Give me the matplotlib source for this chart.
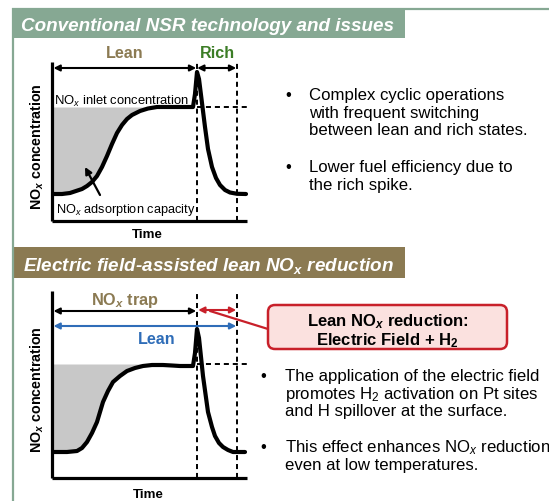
import matplotlib
matplotlib.use("Agg")
import matplotlib.pyplot as plt
import numpy as np
from matplotlib.patches import Rectangle, FancyBboxPatch, ConnectionPatch

plt.rcParams['font.family'] = ['Liberation Sans', 'DejaVu Sans']
plt.rcParams['mathtext.fontset'] = 'custom'
plt.rcParams['mathtext.rm'] = 'Liberation Sans'
plt.rcParams['mathtext.it'] = 'Liberation Sans:italic'
plt.rcParams['mathtext.bf'] = 'Liberation Sans:bold'
plt.rcParams['mathtext.bfit'] = 'Liberation Sans:bold:italic'

# ---------------- data (schematic) ----------------
# top panel: conventional NSR cycle (time, NOx outlet concentration)
t_top = [0.0, 1.0, 1.8, 2.4, 3.0, 3.5, 4.0, 4.5, 5.0, 5.5, 6.0, 6.5, 7.0, 7.5, 8.0, 8.8,
         9.6, 10.5, 12.0, 14.1, 14.3, 14.5, 14.7, 15.0, 15.3, 15.6, 16.0, 16.4, 16.8,
         17.3, 17.8, 18.5, 19.4]
c_top = [2.7, 2.7, 2.8, 3.0, 3.2, 3.5, 3.9, 4.5, 5.4, 6.5, 7.7, 8.8, 9.6, 10.2, 10.6, 11.0,
         11.25, 11.4, 11.4, 11.4, 12.7, 14.9, 14.2, 11.8, 9.4, 7.2, 5.4, 4.3, 3.6,
         3.1, 2.85, 2.72, 2.7]
inlet_top = 11.4
fill_end_top = 10.5

# bottom panel: electric-field assisted lean NOx reduction
t_bot = [0.0, 1.5, 2.5, 3.0, 3.5, 4.0, 4.5, 5.1, 5.6, 6.1, 6.8, 7.5, 8.3, 9.1, 10.0, 11.1,
         12.0, 12.8, 14.1, 14.3, 14.5, 14.7, 15.1, 15.6, 16.0, 16.3, 16.7, 17.1, 17.6,
         18.1, 19.3]
c_bot = [2.6, 2.6, 2.7, 3.0, 3.6, 4.5, 5.6, 7.6, 8.7, 9.6, 10.2, 10.7, 11.0, 11.2, 11.3, 11.3,
         11.25, 11.2, 11.2, 12.5, 14.9, 14.0, 10.2, 6.6, 5.1, 4.2, 3.5, 3.1, 2.8,
         2.6, 2.6]
inlet_bot = 11.4
fill_end_bot = 10.0

lean_end = 14.47     # end of lean period (switch)
rich_end = 18.47     # end of rich period

header_top = "Conventional NSR technology and issues"
header_bot = r"Electric field-assisted lean NO$_{\mathbfit{x}}$ reduction"

bullets_top = [["Complex cyclic operations", "with frequent switching",
                "between lean and rich states."],
               ["Lower fuel efficiency due to", "the rich spike."]]
bullets_bot = [["The application of the electric field",
                r"promotes H$_2$ activation on Pt sites",
                "and H spillover at the surface."],
               [r"This effect enhances NO$_x$ reduction", "even at low temperatures."]]
box_lines = [r"Lean NO$_{\mathbfit{x}}$ reduction:", r"Electric Field + H$_{\mathbf{2}}$"]

# ---------------- colours ----------------
SAGE = '#86A893'
OLIVE = '#8B7A52'
GREEN = '#3C7D26'
BLUE = '#2F6DB8'
RED = '#C8202A'
GREY = '#C8C8C8'

W, H = 549, 502
fig = plt.figure(figsize=(W / 100, H / 100), dpi=100)

# layout axes in pixel units
bg = fig.add_axes([0, 0, 1, 1])
bg.set_xlim(0, W)
bg.set_ylim(H, 0)
bg.axis('off')

# frame lines
bg.plot([12, W], [9.5, 9.5], color=SAGE, lw=1.6, solid_capstyle='butt')
bg.plot([13, 13], [9, H], color=SAGE, lw=1.6, solid_capstyle='butt')
bg.add_patch(Rectangle((12, 9), 393, 30, facecolor=SAGE, edgecolor='none'))
bg.add_patch(Rectangle((12, 248), 393, 31, facecolor=OLIVE, edgecolor='none'))
bg.text(21, 31, header_top, color='white', fontsize=13.6, fontweight='bold',
        fontstyle='italic', ha='left', va='baseline')
bg.text(23, 271, header_bot, color='white', fontsize=13.6, fontweight='bold',
        fontstyle='italic', ha='left', va='baseline')

# bullets
def draw_bullets(groups, x_bullet, x_text, baselines):
    k = 0
    for g in groups:
        for j, line in enumerate(g):
            if j == 0:
                bg.text(x_bullet, baselines[k], "\u2022", fontsize=12.1, ha='left',
                        va='baseline', color='black')
            bg.text(x_text, baselines[k], line, fontsize=12.1, ha='left',
                    va='baseline', color='black')
            k += 1

draw_bullets(bullets_top, 285, 309, [100, 117.7, 135.5, 172.3, 190])
draw_bullets(bullets_bot, 260, 285, [381, 399, 416.5, 452, 470])

# red box
bg.add_patch(FancyBboxPatch((268, 306), 239, 44, boxstyle="round,pad=0,rounding_size=7",
                            facecolor='#FBE1DF', edgecolor=RED, lw=1.8))
bg.text(387.5, 326.5, box_lines[0], fontsize=12, fontweight='bold', ha='center', va='baseline')
bg.text(387.5, 345.5, box_lines[1], fontsize=12, fontweight='bold', ha='center', va='baseline')


def make_chart(px_left, px_bottom, px_top, ylim_top, t, c, inlet, fill_end, spine_top):
    ax = fig.add_axes([px_left / W, 1 - px_bottom / H, 200 / W, (px_bottom - px_top) / H])
    ax.set_xlim(0, 20)
    ax.set_ylim(0, ylim_top)
    ax.patch.set_alpha(0)
    for s in ['top', 'right']:
        ax.spines[s].set_visible(False)
    for s in ['left', 'bottom']:
        ax.spines[s].set_linewidth(2.3)
        ax.spines[s].set_capstyle('butt')
    ax.spines['left'].set_bounds(0, spine_top)
    ax.spines['bottom'].set_bounds(0, 19.5)
    ax.set_xticks([])
    ax.set_yticks([])
    t = np.asarray(t)
    c = np.asarray(c)
    m = t <= fill_end
    ax.fill_between(t[m], c[m], inlet, color=GREY, lw=0, zorder=1)
    ax.plot(t, c, color='black', lw=3.0, solid_joinstyle='round', solid_capstyle='round',
            zorder=4)
    ax.plot([lean_end, 19.8], [inlet, inlet], color='black', lw=1.4,
            linestyle=(0, (2.6, 2.0)), zorder=3, clip_on=False)
    return ax

def arrow(ax, x0, x1, y, color):
    ax.annotate('', xy=(x1, y), xytext=(x0, y),
                arrowprops=dict(arrowstyle='<|-|>', color=color, lw=1.5,
                                mutation_scale=9, shrinkA=0, shrinkB=0), zorder=5)

# ---- top chart ----
ax1 = make_chart(52, 222, 45, 17.7, t_top, c_top, inlet_top, fill_end_top, 15.9)
for tx in (lean_end, rich_end):
    ax1.plot([tx, tx], [0, 16.1], color='black', lw=1.4, linestyle=(0, (2.6, 2.0)), zorder=3)
arrow(ax1, 0.15, lean_end - 0.05, 15.3, 'black')
arrow(ax1, lean_end + 0.05, rich_end - 0.05, 15.3, 'black')
ax1.text(7.3, 16.8, "Lean", color=OLIVE, fontsize=11.6, fontweight='bold', ha='center', va='center')
ax1.text(16.5, 16.8, "Rich", color=GREEN, fontsize=11.6, fontweight='bold', ha='center', va='center')
ax1.text(0.15, 12.05, r"NO$_x$ inlet concentration", fontsize=9.4, ha='left', va='center', zorder=6)
ax1.text(0.45, 1.2, r"NO$_x$ adsorption capacity", fontsize=9.2, ha='left', va='center', zorder=6)
ax1.annotate('', xy=(3.3, 5.4), xytext=(4.8, 2.6),
             arrowprops=dict(arrowstyle='-|>', color='black', lw=1.6, mutation_scale=10,
                             shrinkA=0, shrinkB=0), zorder=6)
ax1.text(9.5, -1.3, "Time", fontsize=9.6, fontweight='bold', ha='center', va='center')
ax1.text(-1.5, 7.5, r"NO$_{\mathbfit{x}}$ concentration", fontsize=10.3, fontweight='bold',
         rotation=90, ha='center', va='center')

# ---- bottom chart ----
ax2 = make_chart(52, 479, 285, 19.4, t_bot, c_bot, inlet_bot, fill_end_bot, 18.7)
for tx in (lean_end, rich_end):
    ax2.plot([tx, tx], [0, 18.7], color='black', lw=1.4, linestyle=(0, (2.6, 2.0)), zorder=3)
arrow(ax2, 0.15, lean_end - 0.05, 16.7, 'black')
arrow(ax2, lean_end + 0.15, rich_end - 0.05, 16.8, RED)
arrow(ax2, 0.15, rich_end - 0.05, 15.2, BLUE)
ax2.text(7.3, 17.8, r"NO$_{\mathbfit{x}}$ trap", color=OLIVE, fontsize=11.7, fontweight='bold',
         ha='center', va='center')
ax2.text(10.5, 13.9, "Lean", color=BLUE, fontsize=11.6, fontweight='bold', ha='center', va='center')
ax2.text(9.6, -1.56, "Time", fontsize=9.6, fontweight='bold', ha='center', va='center')
ax2.text(-1.5, 8.9, r"NO$_{\mathbfit{x}}$ concentration", fontsize=10.3, fontweight='bold',
         rotation=90, ha='center', va='center')

con = ConnectionPatch(xyA=(15.8, 16.7), coordsA=ax2.transData,
                      xyB=(268, 330), coordsB=bg.transData, color=RED, lw=1.6)
fig.add_artist(con)

fig.savefig('out.png', dpi=100)
